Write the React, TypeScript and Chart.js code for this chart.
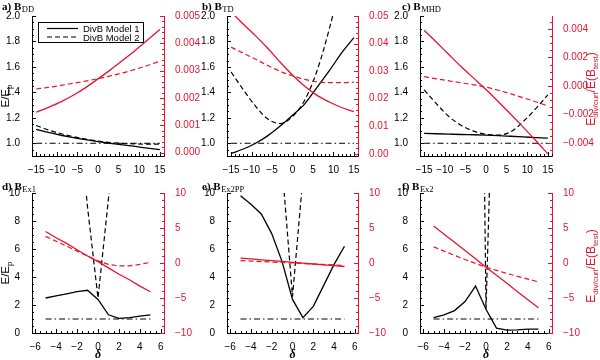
import React, { useEffect, useRef } from "react";
import { Chart, registerables } from "chart.js";

Chart.register(...registerables);

// ---------------- data ----------------
const deltaTop = [-15, -12, -9, -6, -3, 0, 3, 6, 9, 12, 15];
const deltaBottom = [-5, -4, -3, -2, -1, 0, 1, 2, 3, 4, 5];

const aModel1 = [1.11, 1.085, 1.063, 1.045, 1.028, 1.013, 1.0, 0.987, 0.975, 0.962, 0.95];
const aModel2 = [1.14, 1.105, 1.075, 1.052, 1.033, 1.017, 1.006, 0.999, 0.995, 0.993, 0.993];
const aRatio1 = [0.00148, 0.00166, 0.00186, 0.0021, 0.00238, 0.0027, 0.00303, 0.00338, 0.00374, 0.00412, 0.00451];
const aRatio2 = [0.00233, 0.00239, 0.00246, 0.00254, 0.00262, 0.00271, 0.00281, 0.00292, 0.00305, 0.00319, 0.00335];

const bModel1 = [0.92, 0.955, 1.0, 1.06, 1.135, 1.22, 1.31, 1.44, 1.57, 1.71, 1.83];
const bModel2 = [1.56, 1.42, 1.29, 1.19, 1.155, 1.21, 1.34, 1.57, 1.9, 2.3, 2.8];
const bRatio1 = [0.0515, 0.047, 0.0428, 0.0382, 0.0332, 0.0286, 0.0245, 0.0212, 0.0188, 0.0168, 0.0153];
const bRatio2 = [0.0387, 0.0365, 0.0343, 0.032, 0.0299, 0.0283, 0.027, 0.0261, 0.0258, 0.0258, 0.026];

const cModel1 = [1.078, 1.075, 1.072, 1.069, 1.067, 1.064, 1.06, 1.055, 1.05, 1.045, 1.04];
const cModel2 = [1.42, 1.31, 1.21, 1.14, 1.095, 1.07, 1.065, 1.09, 1.17, 1.27, 1.38];
const cRatio1 = [0.0039, 0.00306, 0.0022, 0.00135, 0.00055, -0.00025, -0.0011, -0.00198, -0.00288, -0.0038, -0.00475];
const cRatio2 = [0.00066, 0.0005, 0.00036, 0.00022, 0.00008, -0.00008, -0.0003, -0.00055, -0.00082, -0.0011, -0.0014];

const dModel1 = [2.5, 2.65, 2.8, 2.95, 3.05, 2.4, 1.3, 1.05, 1.1, 1.2, 1.3];
const dModel2 = [60, 45, 30, 17, 9, 2.5, 9.6, 18, 30, 45, 60];
const dRatio1 = [4.5, 3.6, 2.8, 1.9, 1.0, 0.2, -0.7, -1.6, -2.4, -3.3, -4.1];
const dRatio2 = [3.8, 3.1, 2.4, 1.7, 1.0, 0.3, -0.2, -0.4, -0.4, -0.2, 0.1];

const eModel1 = [9.8, 9.2, 8.5, 7.1, 5.1, 2.4, 1.1, 1.9, 3.4, 4.9, 6.2];
const eModel2 = [70, 50, 32, 20, 11.9, 2.6, 11.1, 20, 32, 50, 70];
const eRatio1 = [0.7, 0.58, 0.46, 0.34, 0.22, 0.1, -0.02, -0.14, -0.26, -0.38, -0.5];
const eRatio2 = [0.35, 0.28, 0.21, 0.14, 0.07, 0.0, -0.07, -0.14, -0.21, -0.28, -0.35];

const fModel1 = [1.1, 1.3, 1.6, 2.25, 3.35, 1.7, 0.35, 0.2, 0.22, 0.28, 0.28];
const fModel2 = [300, 240, 180, 120, 65, 1.7, 27.6, 60, 90, 120, 150];
const fRatio1 = [5.3, 4.1, 2.95, 1.8, 0.6, -0.6, -1.75, -2.9, -4.1, -5.25, -6.4];
const fRatio2 = [2.3, 1.7, 1.1, 0.5, -0.05, -0.6, -1.05, -1.5, -1.9, -2.3, -2.7];

const refTop = [-15, 15];
const refBottom = [-5, 5];
const refLevel = 1.0;

const xTicksTop = [-15, -10, -5, 0, 5, 10, 15];
const xTicksBottom = [-6, -4, -2, 0, 2, 4, 6];
const leftTicksTop = [1.0, 1.2, 1.4, 1.6, 1.8, 2.0];
const leftTicksBottom = [0, 2, 4, 6, 8, 10];
const rightTicksA = [0, 0.001, 0.002, 0.003, 0.004, 0.005];
const rightTicksB = [0, 0.01, 0.02, 0.03, 0.04, 0.05];
const rightTicksC = [-0.004, -0.002, 0, 0.002, 0.004];
const rightTicksBottom = [-10, -5, 0, 5, 10];

const panelLetters = ["a)", "b)", "c)", "d)", "e)", "f)"];
const panelSubs = ["DD", "TD", "MHD", "Ex1", "Ex2PP", "Ex2"];
const legendLabels = ["DivB Model 1", "DivB Model 2"];

// ---------------- styling / layout ----------------
const SANS = '"Liberation Sans", Arial, sans-serif';
const SERIF = '"Liberation Serif", "Times New Roman", serif';
const RED = "#e5142e";
const BLACK = "#000000";
const TICK_FONT = 10;
const MAJOR = 4;
const MINOR = 2;
const LEFT_W = 30;
const RIGHT_W = 46;
const X_H = 22;

type Spec = {
  idx: number;
  L: number; T: number; R: number; B: number;
  titleX: number; titleY: number;
  xMin: number; xMax: number; xs: number[]; xTicks: number[]; xMinor: number;
  yMin: number; yMax: number; yTicks: number[]; yDec: number; yMinor: number;
  y2Min: number; y2Max: number; y2Ticks: number[]; y2Dec: number; y2Minor: number;
  m1: number[]; m2: number[]; r1: number[]; r2: number[]; ref: number[];
  smooth: boolean; legend: boolean; leftTitle: boolean; rightTitle: boolean; xTitle: boolean;
};

const topCommon = {
  T: 16, B: 156, titleY: 10,
  xMin: -16, xMax: 16, xs: deltaTop, xTicks: xTicksTop, xMinor: 1,
  yMin: 0.9, yMax: 2.0, yTicks: leftTicksTop, yDec: 1, yMinor: 0.05,
  ref: refTop, smooth: true, xTitle: false,
};
const bottomCommon = {
  T: 193, B: 333, titleY: 190,
  xMin: -6.3, xMax: 6.3, xs: deltaBottom, xTicks: xTicksBottom, xMinor: 0.5,
  yMin: 0, yMax: 10, yTicks: leftTicksBottom, yDec: 0, yMinor: 0.5,
  y2Min: -10, y2Max: 10, y2Ticks: rightTicksBottom, y2Dec: 0, y2Minor: 1,
  ref: refBottom, smooth: false, legend: false, xTitle: true,
};

const specs: Spec[] = [
  { ...topCommon, idx: 0, L: 32, R: 164, titleX: 2,
    y2Min: -0.00012, y2Max: 0.005, y2Ticks: rightTicksA, y2Dec: 3, y2Minor: 0.0002,
    m1: aModel1, m2: aModel2, r1: aRatio1, r2: aRatio2, legend: true, leftTitle: true, rightTitle: false },
  { ...topCommon, idx: 1, L: 227, R: 358, titleX: 202,
    y2Min: -0.0008, y2Max: 0.05, y2Ticks: rightTicksB, y2Dec: 2, y2Minor: 0.002,
    m1: bModel1, m2: bModel2, r1: bRatio1, r2: bRatio2, legend: false, leftTitle: false, rightTitle: false },
  { ...topCommon, idx: 2, L: 420, R: 552, titleX: 402,
    y2Min: -0.0049, y2Max: 0.0049, y2Ticks: rightTicksC, y2Dec: 3, y2Minor: 0.0005,
    m1: cModel1, m2: cModel2, r1: cRatio1, r2: cRatio2, legend: false, leftTitle: false, rightTitle: true },
  { ...bottomCommon, idx: 3, L: 32, R: 164, titleX: 2,
    m1: dModel1, m2: dModel2, r1: dRatio1, r2: dRatio2, leftTitle: true, rightTitle: false },
  { ...bottomCommon, idx: 4, L: 227, R: 358, titleX: 202,
    m1: eModel1, m2: eModel2, r1: eRatio1, r2: eRatio2, leftTitle: false, rightTitle: false },
  { ...bottomCommon, idx: 5, L: 420, R: 552, titleX: 402,
    m1: fModel1, m2: fModel2, r1: fRatio1, r2: fRatio2, leftTitle: false, rightTitle: true },
] as Spec[];

function fmt(v: number, d: number) {
  const r = Number(v.toFixed(d));
  const s = Math.abs(r).toFixed(d);
  return (r < 0 ? "\u2212" : "") + s;
}

function minorValues(min: number, max: number, step: number) {
  const out: number[] = [];
  const i0 = Math.ceil(min / step - 1e-9);
  const i1 = Math.floor(max / step + 1e-9);
  for (let i = i0; i <= i1; i++) out.push(i * step);
  return out;
}

function drawDeco(chart: any, s: Spec) {
  const ctx: CanvasRenderingContext2D = chart.ctx;
  const { left, right, bottom } = chart.chartArea;
  const xs = chart.scales.x, yl = chart.scales.y, yr = chart.scales.y2;
  ctx.save();
  ctx.lineWidth = 1;
  ctx.setLineDash([]);
  const seg = (x1: number, y1: number, x2: number, y2: number) => {
    ctx.beginPath(); ctx.moveTo(x1, y1); ctx.lineTo(x2, y2); ctx.stroke();
  };
  const px = (scale: any, v: number) => Math.round(scale.getPixelForValue(v)) + 0.5;

  ctx.strokeStyle = BLACK;
  for (const v of minorValues(s.xMin, s.xMax, s.xMinor)) { const p = px(xs, v); seg(p, bottom, p, bottom - MINOR); }
  for (const v of s.xTicks) { const p = px(xs, v); seg(p, bottom, p, bottom - MAJOR); }
  for (const v of minorValues(s.yMin, s.yMax, s.yMinor)) { const p = px(yl, v); seg(left, p, left + MINOR, p); }
  for (const v of s.yTicks) { const p = px(yl, v); seg(left, p, left + MAJOR, p); }
  ctx.strokeStyle = RED;
  for (const v of minorValues(s.y2Min, s.y2Max, s.y2Minor)) { const p = px(yr, v); seg(right, p, right - MINOR, p); }
  for (const v of s.y2Ticks) { const p = px(yr, v); seg(right, p, right - MAJOR, p); }

  // panel title
  ctx.fillStyle = BLACK;
  ctx.textAlign = "left";
  ctx.textBaseline = "alphabetic";
  ctx.font = `bold 11px ${SERIF}`;
  const main = `${panelLetters[s.idx]} B`;
  ctx.fillText(main, s.titleX, s.titleY);
  const mw = ctx.measureText(main).width;
  ctx.font = `8.5px ${SERIF}`;
  ctx.fillText(panelSubs[s.idx], s.titleX + mw + 0.5, s.titleY + 2);

  // left axis title E/E_p
  if (s.leftTitle) {
    ctx.save();
    ctx.translate(5, (s.T + s.B) / 2 + 10);
    ctx.rotate(-Math.PI / 2);
    ctx.font = `11.5px ${SANS}`;
    const w1 = ctx.measureText("E/E").width;
    ctx.font = `8px ${SANS}`;
    const w2 = ctx.measureText("p").width;
    const x0 = -(w1 + w2) / 2;
    ctx.fillStyle = BLACK;
    ctx.font = `11.5px ${SANS}`;
    ctx.fillText("E/E", x0, 4);
    ctx.font = `8px ${SANS}`;
    ctx.fillText("p", x0 + w1, 6.5);
    ctx.restore();
  }

  // right axis title
  if (s.rightTitle) {
    const parts: [string, boolean][] = [["E", false], ["div/curl", true], ["/E(B", false], ["test", true], [")", false]];
    ctx.save();
    ctx.translate(591, (s.T + s.B) / 2 + 3);
    ctx.rotate(-Math.PI / 2);
    ctx.fillStyle = RED;
    let total = 0;
    for (const [t, sub] of parts) { ctx.font = sub ? `8px ${SANS}` : `12px ${SANS}`; total += ctx.measureText(t).width; }
    let x = -total / 2;
    for (const [t, sub] of parts) {
      ctx.font = sub ? `8px ${SANS}` : `12px ${SANS}`;
      ctx.fillText(t, x, sub ? 6.5 : 4);
      x += ctx.measureText(t).width;
    }
    ctx.restore();
  }

  // x axis title delta
  if (s.xTitle) {
    ctx.fillStyle = BLACK;
    ctx.textAlign = "center";
    ctx.font = `italic bold 12px ${SERIF}`;
    ctx.fillText("\u03b4", (s.L + s.R) / 2, 358);
  }

  // legend
  if (s.legend) {
    ctx.strokeStyle = BLACK;
    ctx.lineWidth = 1;
    ctx.strokeRect(38.5, 22.5, 105, 20);
    ctx.lineWidth = 1.2;
    ctx.beginPath(); ctx.moveTo(47, 28.5); ctx.lineTo(78, 28.5); ctx.stroke();
    ctx.setLineDash([5, 3]);
    ctx.beginPath(); ctx.moveTo(47, 37); ctx.lineTo(78, 37); ctx.stroke();
    ctx.setLineDash([]);
    ctx.fillStyle = BLACK;
    ctx.textAlign = "left";
    ctx.font = `9.5px ${SANS}`;
    ctx.fillText(legendLabels[0], 83, 32);
    ctx.fillText(legendLabels[1], 83, 40.5);
  }
  ctx.restore();
}

function series(xs: number[], ys: number[], color: string, dash: number[], axis: string, width: number, smooth: boolean) {
  return {
    data: xs.map((x, i) => ({ x, y: ys[i] })),
    borderColor: color,
    backgroundColor: color,
    borderWidth: width,
    borderDash: dash,
    pointRadius: 0,
    fill: false,
    yAxisID: axis,
    tension: 0,
    cubicInterpolationMode: smooth ? "monotone" : "default",
  };
}

function buildConfig(s: Spec): any {
  const tickFont = { family: SANS, size: TICK_FONT };
  return {
    type: "line",
    data: {
      datasets: [
        series(s.xs, s.r1, RED, [], "y2", 1.3, s.smooth),
        series(s.xs, s.r2, RED, [5, 3], "y2", 1.2, s.smooth),
        series(s.ref, s.ref.map(() => refLevel), BLACK, [6, 3, 1.5, 3], "y", 1, false),
        series(s.xs, s.m1, BLACK, [], "y", 1.3, s.smooth),
        series(s.xs, s.m2, BLACK, [5, 3], "y", 1.2, s.smooth),
      ],
    },
    options: {
      responsive: false,
      animation: false,
      devicePixelRatio: 1,
      events: [],
      layout: {
        padding: { left: s.L - LEFT_W, right: 600 - s.R - RIGHT_W, top: s.T, bottom: 360 - s.B - X_H },
      },
      plugins: { legend: { display: false }, tooltip: { enabled: false }, title: { display: false } },
      scales: {
        x: {
          type: "linear", position: "bottom", min: s.xMin, max: s.xMax,
          grid: { display: false }, border: { color: BLACK, width: 1 },
          ticks: { color: BLACK, font: tickFont, padding: 0, maxRotation: 0, autoSkip: false, callback: (v: number) => fmt(v, 0) },
          afterBuildTicks: (sc: any) => { sc.ticks = s.xTicks.map((v) => ({ value: v })); },
          afterFit: (sc: any) => { sc.height = X_H; },
        },
        y: {
          type: "linear", position: "left", min: s.yMin, max: s.yMax,
          grid: { display: false }, border: { color: BLACK, width: 1 },
          ticks: { color: BLACK, font: tickFont, padding: 4, autoSkip: false, callback: (v: number) => fmt(v, s.yDec) },
          afterBuildTicks: (sc: any) => { sc.ticks = s.yTicks.map((v) => ({ value: v })); },
          afterFit: (sc: any) => { sc.width = LEFT_W; },
        },
        y2: {
          type: "linear", position: "right", min: s.y2Min, max: s.y2Max,
          grid: { display: false }, border: { color: RED, width: 1 },
          ticks: { color: RED, font: tickFont, padding: 3, autoSkip: false, callback: (v: number) => fmt(v, s.y2Dec) },
          afterBuildTicks: (sc: any) => { sc.ticks = s.y2Ticks.map((v) => ({ value: v })); },
          afterFit: (sc: any) => { sc.width = RIGHT_W; },
        },
      },
    },
    plugins: [{ id: "deco" + s.idx, afterDraw: (chart: any) => drawDeco(chart, s) }],
  };
}

function Panel({ spec }: { spec: Spec }) {
  const ref = useRef<HTMLCanvasElement>(null);
  useEffect(() => {
    const chart = new Chart(ref.current as HTMLCanvasElement, buildConfig(spec));
    return () => chart.destroy();
  }, [spec]);
  return (
    <canvas
      ref={ref}
      width={600}
      height={360}
      style={{ position: "absolute", left: 0, top: 0, width: 600, height: 360 }}
    />
  );
}

export default function App() {
  return (
    <div style={{ position: "fixed", left: 0, top: 0, width: 600, height: 360, background: "#ffffff", overflow: "hidden" }}>
      {specs.map((s) => (
        <Panel key={s.idx} spec={s} />
      ))}
    </div>
  );
}
